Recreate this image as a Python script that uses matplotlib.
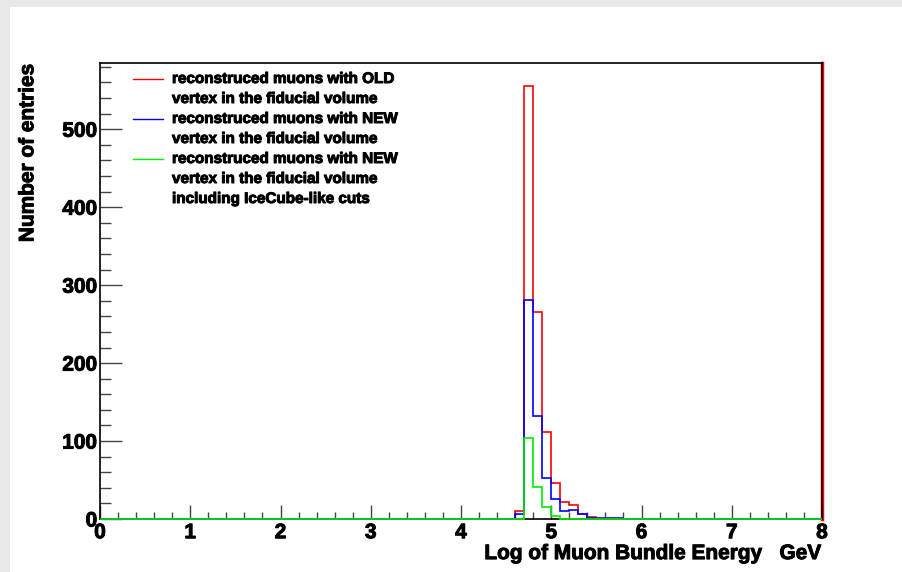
import numpy as np
import matplotlib
matplotlib.use("Agg")
import matplotlib.pyplot as plt
import matplotlib.patheffects as pe
from matplotlib.lines import Line2D
from matplotlib.ticker import MultipleLocator

# histogram: 80 bins of 0.1 from 0 to 8, only bins from 4.6 up are filled
edges = np.round(np.arange(0, 8.0001, 0.1), 1)
first_bin = 46  # bin starting at 4.6

old_counts = [10, 556, 265, 112, 46, 22, 18, 7, 2]
new_counts = [7, 281, 132, 53, 26, 10, 11, 6, 1, 1, 1, 1]
cut_counts = [0, 104, 41, 16, 4]

labels = [
    ["reconstruced muons with OLD", "vertex in the fiducial volume"],
    ["reconstruced muons with NEW", "vertex in the fiducial volume"],
    ["reconstruced muons with NEW", "vertex in the fiducial volume",
     "including IceCube-like cuts"],
]
colors = ["#ff0000", "#0000ff", "#00ee00"]


def fill(counts):
    h = np.zeros(len(edges) - 1)
    h[first_bin:first_bin + len(counts)] = counts
    return h


plt.rcParams["font.family"] = ["Liberation Sans", "DejaVu Sans"]
plt.rcParams["font.weight"] = "bold"
heavy = [pe.withStroke(linewidth=0.7, foreground="black")]

W, H = 902, 572
fig = plt.figure(figsize=(W / 100, H / 100), dpi=100, facecolor="#e8e8e8")
# white canvas inside the grey frame
fig.patches.append(plt.Rectangle((10 / W, 0), 1, 1 - 7 / H, transform=fig.transFigure,
                                 facecolor="white", edgecolor="none", zorder=-10))

ax = fig.add_axes([100 / W, 1 - 519 / H, 722 / W, 456 / H])
for counts, c in zip([old_counts, new_counts, cut_counts], colors):
    ax.stairs(fill(counts), edges, color=c, lw=1.2, zorder=3, clip_on=False)
ax.axvline(8, color="#ff0000", lw=2.5, clip_on=False, zorder=1)

ax.set_xlim(0, 8)
ax.set_ylim(0, 585)
ax.xaxis.set_major_locator(MultipleLocator(1))
ax.xaxis.set_minor_locator(MultipleLocator(0.2))
ax.yaxis.set_major_locator(MultipleLocator(100))
ax.yaxis.set_minor_locator(MultipleLocator(20))
ax.tick_params(axis="both", which="both", direction="in", color="#444444",
               labelsize=15, width=1)
ax.tick_params(axis="x", which="major", length=10, pad=3)
ax.tick_params(axis="x", which="minor", length=5)
ax.tick_params(axis="y", which="major", length=16, pad=2)
ax.tick_params(axis="y", which="minor", length=8)
for s in ax.spines.values():
    s.set_linewidth(1.2)

ax.set_xlabel("Log of Muon Bundle Energy   GeV", fontsize=15, fontweight="bold")
ax.xaxis.set_label_coords(1.0, -0.055)
ax.xaxis.label.set_horizontalalignment("right")
ax.set_ylabel("Number of entries", fontsize=15, fontweight="bold")
ax.yaxis.label.set_verticalalignment("center")
ax.yaxis.label.set_horizontalalignment("right")
ax.yaxis.set_label_coords(-0.1, 1.0)

for t in ax.get_xticklabels() + ax.get_yticklabels() + [ax.xaxis.label, ax.yaxis.label]:
    t.set_path_effects(heavy)

# legend drawn line by line
y = 79
for lab, c in zip(labels, colors):
    fig.lines.append(Line2D([133 / W, 163 / W], [1 - y / H] * 2, color=c, lw=1,
                            transform=fig.transFigure))
    for line in lab:
        fig.text(172 / W, 1 - y / H, line, fontsize=11, fontweight="bold",
                 va="center", ha="left", path_effects=heavy)
        y += 20

fig.savefig("out.png", dpi=100, facecolor=fig.get_facecolor())
